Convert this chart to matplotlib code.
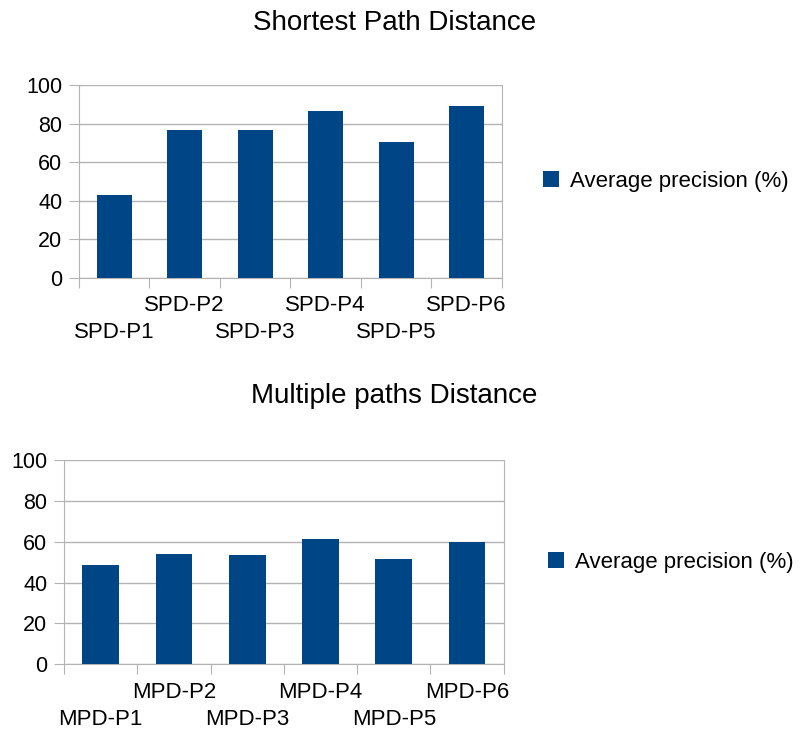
import numpy as np
import matplotlib.pyplot as plt

plt.rcParams['font.family'] = ['Liberation Sans', 'DejaVu Sans']

spd_labels = ["SPD-P1", "SPD-P2", "SPD-P3", "SPD-P4", "SPD-P5", "SPD-P6"]
spd_values = [42.9, 76.9, 76.6, 86.7, 70.3, 89.0]

mpd_labels = ["MPD-P1", "MPD-P2", "MPD-P3", "MPD-P4", "MPD-P5", "MPD-P6"]
mpd_values = [48.4, 53.8, 53.3, 61.3, 51.5, 59.8]

series_name = "Average precision (%)"
bar_color = "#004586"
grid_color = "#b3b3b3"

fig = plt.figure(figsize=(8.01, 7.33), dpi=100)


def draw(ax, labels, values, title, title_y, leg_x, rows):
    n = len(values)
    x = np.arange(n)
    ax.bar(x, values, width=0.5, color=bar_color, label=series_name, zorder=3)
    ax.set_xlim(-0.5, n - 0.5)
    ax.set_ylim(0, 100)
    ax.set_yticks(np.arange(0, 101, 20))
    ax.yaxis.grid(True, color=grid_color, linewidth=1, zorder=0)
    # category boundaries as ticks
    ax.set_xticks(np.arange(-0.5, n, 1.0))
    ax.set_xticklabels([])
    ax.tick_params(axis='x', length=7, color=grid_color)
    ax.tick_params(axis='y', length=7, color=grid_color, labelsize=15.5, pad=5)
    # staggered category names
    for i, lab in enumerate(labels):
        off = rows[1] if i % 2 == 0 else rows[0]
        ax.annotate(lab, xy=(i, 0), xycoords=('data', 'axes fraction'),
                    xytext=(0, off), textcoords='offset points',
                    ha='center', va='center', fontsize=16)
    for s in ax.spines.values():
        s.set_color(grid_color)
    ax.spines['top'].set_visible(False)
    fig.text(0.492, title_y, title, ha='center', va='center', fontsize=20)
    ax.legend(loc='center left', bbox_to_anchor=(leg_x, 0.5), frameon=False,
              fontsize=16, handlelength=0.7, handleheight=0.7, handletextpad=0.5)


ax1 = fig.add_axes([0.0986, 0.6207, 0.528, 0.2633])
draw(ax1, spd_labels, spd_values, "Shortest Path Distance", 1 - 23 / 733, 1.051,
     (-19.5, -39))

ax2 = fig.add_axes([0.0799, 0.0941, 0.549, 0.278])
draw(ax2, mpd_labels, mpd_values, "Multiple paths Distance", 1 - 396 / 733, 1.056,
     (-20.5, -40))

fig.savefig("out.png", dpi=100)
